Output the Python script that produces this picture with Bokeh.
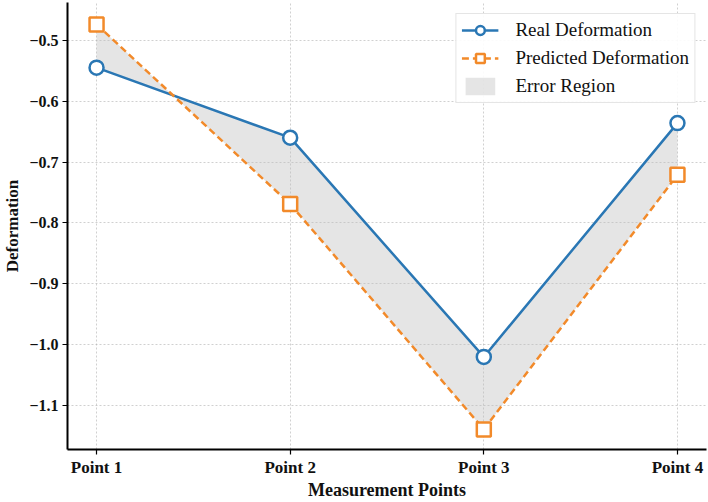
from bokeh.plotting import figure
from bokeh.models import ColumnDataSource, FixedTicker, Legend, LegendItem, Range1d
from bokeh.embed import file_html
from bokeh.resources import INLINE

points = ["Point 1", "Point 2", "Point 3", "Point 4"]
x_pos = [1, 2, 3, 4]
real = [-0.545, -0.66, -1.02, -0.636]
pred = [-0.474, -0.769, -1.139, -0.721]
y_ticks = [-1.1, -1.0, -0.9, -0.8, -0.7, -0.6, -0.5]
y_tick_labels = ["\u22121.1", "\u22121.0", "\u22120.9", "\u22120.8", "\u22120.7", "\u22120.6", "\u22120.5"]
x_title = "Measurement Points"
y_title = "Deformation"

src = ColumnDataSource(dict(x=x_pos, real=real, pred=pred))

FONT = "Liberation Serif"
BLUE = "#2a77b4"
ORANGE = "#f28a2a"

p = figure(width=708, height=502, output_backend="svg", toolbar_location=None,
           x_range=Range1d(0.85, 4.15), y_range=Range1d(-1.172, -0.438),
           min_border_left=66, min_border_right=2, min_border_top=2, min_border_bottom=40)
p.outline_line_color = None
p.background_fill_color = "white"

area = p.varea(x="x", y1="real", y2="pred", source=src, fill_color="#bdbdbd", fill_alpha=0.4)
l1 = p.line(x="x", y="real", source=src, line_color=BLUE, line_width=2.5)
m1 = p.scatter(x="x", y="real", source=src, marker="circle", size=14, fill_color="white",
               line_color=BLUE, line_width=2.5)
l2 = p.line(x="x", y="pred", source=src, line_color=ORANGE, line_width=2.5, line_dash="7 4")
m2 = p.scatter(x="x", y="pred", source=src, marker="square", size=14, fill_color="white",
               line_color=ORANGE, line_width=2.5)

p.xaxis.ticker = FixedTicker(ticks=x_pos)
p.xaxis.major_label_overrides = {x: lab for x, lab in zip(x_pos, points)}
p.yaxis.ticker = FixedTicker(ticks=y_ticks)
p.yaxis.major_label_overrides = {t: lab for t, lab in zip(y_ticks, y_tick_labels)}

for ax in (p.xaxis[0], p.yaxis[0]):
    ax.axis_line_color = "black"
    ax.axis_line_width = 2
    ax.major_tick_line_color = "black"
    ax.major_tick_line_width = 1.2
    ax.major_tick_out = 5
    ax.major_tick_in = 0
    ax.minor_tick_line_color = None
    ax.major_label_text_font = FONT
    ax.major_label_text_font_style = "bold"
    ax.major_label_text_color = "#111111"
    ax.axis_label_text_font = FONT
    ax.axis_label_text_font_style = "bold"
    ax.axis_label_text_color = "#111111"
    ax.major_label_text_line_height = 0.9
    ax.axis_label_text_line_height = 0.9

p.xaxis.major_label_text_font_size = "17px"
p.xaxis.axis_label_text_font_size = "18px"
p.yaxis.major_label_text_font_size = "16px"
p.yaxis.axis_label_text_font_size = "17px"

p.xaxis.axis_label = x_title
p.yaxis.axis_label = y_title
p.xaxis.axis_label_standoff = 0
p.yaxis.axis_label_standoff = 4
p.xaxis.major_label_standoff = 3
p.yaxis.major_label_standoff = 4

for g in (p.xgrid[0], p.ygrid[0]):
    g.grid_line_color = "#b0b0b0"
    g.grid_line_alpha = 0.6
    g.grid_line_dash = "2 2"
    g.grid_line_width = 1

legend = Legend(items=[
    LegendItem(label="Real Deformation", renderers=[l1, m1]),
    LegendItem(label="Predicted Deformation", renderers=[l2, m2]),
    LegendItem(label="Error Region", renderers=[area]),
], location="top_right")
legend.label_text_font = FONT
legend.label_text_font_size = "19px"
legend.label_text_color = "#111111"
legend.border_line_color = "#cccccc"
legend.border_line_width = 1
legend.background_fill_alpha = 0.9
legend.glyph_width = 37
legend.glyph_height = 22
legend.label_height = 22
legend.label_standoff = 17
legend.spacing = 6
legend.padding = 5
legend.margin = 11
p.add_layout(legend)

open("out.html", "w").write(file_html(p, INLINE))
